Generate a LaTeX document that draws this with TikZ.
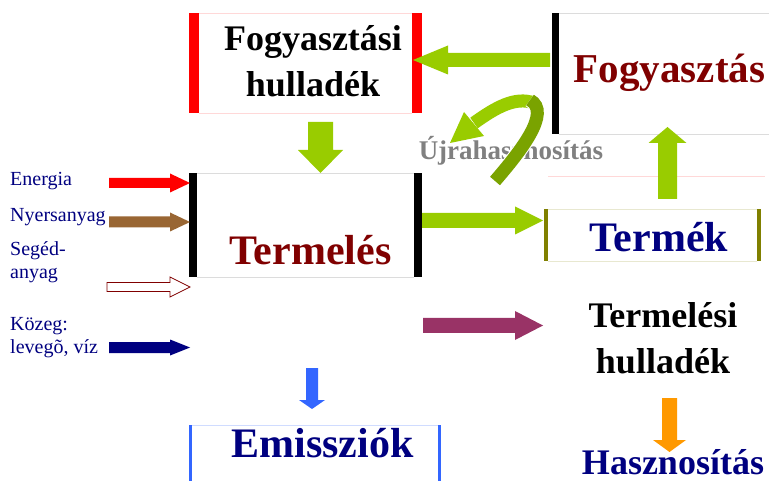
\documentclass[tikz,border=0pt]{standalone}
\usepackage{fontspec}
\setmainfont{Liberation Serif}
\definecolor{lgreen}{HTML}{99CC00}
\definecolor{dgreen}{HTML}{7AA300}
\definecolor{dred}{HTML}{800000}
\definecolor{navyc}{HTML}{000080}
\definecolor{brownc}{HTML}{996633}
\definecolor{purplec}{HTML}{993366}
\definecolor{orangec}{HTML}{FF9900}
\definecolor{bluec}{HTML}{3366FF}
\definecolor{olivec}{HTML}{808000}
\definecolor{grayt}{HTML}{808080}
\definecolor{pinkl}{HTML}{FFD8D8}
\definecolor{grayl}{HTML}{DCDCDC}
\definecolor{yell}{HTML}{E8E8D0}
\definecolor{bluel}{HTML}{D0DCFF}
% horizontal block arrow: style, x start, x head base, x tip, y centre, shaft half, head half
\newcommand\harr[7]{\path[#1] (#2,#5-#6) -- (#3,#5-#6) -- (#3,#5-#7) -- (#4,#5) -- (#3,#5+#7) -- (#3,#5+#6) -- (#2,#5+#6) -- cycle;}
% vertical block arrow: style, y start, y head base, y tip, x centre, shaft half, head half
\newcommand\varr[7]{\path[#1] (#5-#6,#2) -- (#5-#6,#3) -- (#5-#7,#3) -- (#5,#4) -- (#5+#7,#3) -- (#5+#6,#3) -- (#5+#6,#2) -- cycle;}
\tikzset{
  big/.style={font=\fontsize{42}{48}\selectfont\bfseries, inner sep=0pt, anchor=base},
  mid/.style={font=\fontsize{36}{46}\selectfont\bfseries, inner sep=0pt, anchor=base, align=center},
  lab/.style={font=\fontsize{20}{23}\selectfont, text=navyc, inner sep=0pt, anchor=base west, align=left},
}
\begin{document}
\begin{tikzpicture}[x=1pt,y=-1pt]
\useasboundingbox (0,0) rectangle (769,481);
% ---- boxes ----
% Fogyasztási hulladék
\draw[pinkl, line width=0.8pt] (199,13) -- (412,13) (199,113) -- (412,113);
\fill[red] (189,13) rectangle (199,113);
\fill[red] (412,13) rectangle (422,113);
% Fogyasztás
\draw[grayl, line width=0.8pt] (559,13) -- (769,13) (559,134) -- (769,134);
\fill[black] (552,13) rectangle (559,134);
% Termelés
\draw[grayl, line width=0.8pt] (197,173) -- (414,173) (197,277) -- (414,277);
\fill[black] (189,173) rectangle (197,277);
\fill[black] (414,173) rectangle (422,277);
% Termék
\draw[yell, line width=0.8pt] (548,209) -- (757,209) (548,261) -- (757,261);
\fill[olivec] (544,209) rectangle (548,261);
\fill[olivec] (757,209) rectangle (761,261);
% Emissziók
\draw[bluel, line width=0.8pt] (192,425) -- (438,425);
\fill[bluec] (189,425) rectangle (192,481);
\fill[bluec] (438,425) rectangle (441,481);
% faint line
\draw[pinkl, line width=0.8pt] (548,176) -- (765,176);
% ---- texts ----
\node[mid] (fh) at (313,97) {Fogyasztási\\hulladék};
\node[big, font=\fontsize{41}{48}\selectfont\bfseries, text=dred] (fo) at (669.5,83) {Fogyasztás};
\node[big, text=dred] (te) at (310.5,265) {Termelés};
\node[big, text=navyc] (tk) at (659,252) {Termék};
\node[mid] (th) at (663,373) {Termelési\\hulladék};
\node[mid, text=navyc] (ha) at (673,474) {Hasznosítás};
\node[big, text=navyc] (em) at (322.5,457) {Emissziók};
\node[inner sep=0pt, anchor=base, font=\fontsize{27}{30}\selectfont\bfseries, text=grayt] (uj) at (511,160) {Újrahasznosítás};
\node[lab] (en) at (10,186) {Energia};
\node[lab] (ny) at (10,222) {Nyersanyag};
\node[lab] (se) at (10,279) {Segéd-\\anyag};
\node[lab] (ko) at (10,353) {Közeg:\\levegõ, víz};
% ---- arrows ----
\harr{fill=lgreen}{550}{448}{413}{60}{7}{14.5}
\varr{fill=lgreen}{122}{150}{173}{320.5}{12.5}{22.5}
\harr{fill=lgreen}{422}{515}{543}{220.5}{7.5}{14}
\varr{fill=lgreen}{199}{143}{127}{667.5}{9.5}{19}
\harr{fill=red}{109}{170}{190}{183}{5}{9.5}
\harr{fill=brownc}{109}{170}{190}{222}{5.5}{9.5}
\harr{draw=dred, fill=white, line width=0.8pt}{107}{170}{190}{287}{4.5}{10}
\harr{fill=navyc}{109}{170}{190}{347.5}{5.5}{8}
\harr{fill=purplec}{423}{515}{543}{325.5}{7.5}{14.5}
\varr{fill=orangec}{398}{440}{452}{669.5}{7.5}{16.5}
\varr{fill=bluec}{368}{400}{409}{312}{6}{13}
% curved recycling arrow
\draw[white, line width=15pt] (534,103) .. controls (515,96) and (495,108) .. (474,123);
\draw[lgreen, line width=13pt] (534,103) .. controls (515,96) and (495,108) .. (474,123);
\fill[lgreen] (450,143) -- (464,112) -- (484,136) -- cycle;
\draw[white, line width=15pt] (495,181) .. controls (520,152) and (552,112) .. (530,100);
\draw[dgreen, line width=13pt] (495,181) .. controls (520,152) and (552,112) .. (530,100);
\end{tikzpicture}
\end{document}
